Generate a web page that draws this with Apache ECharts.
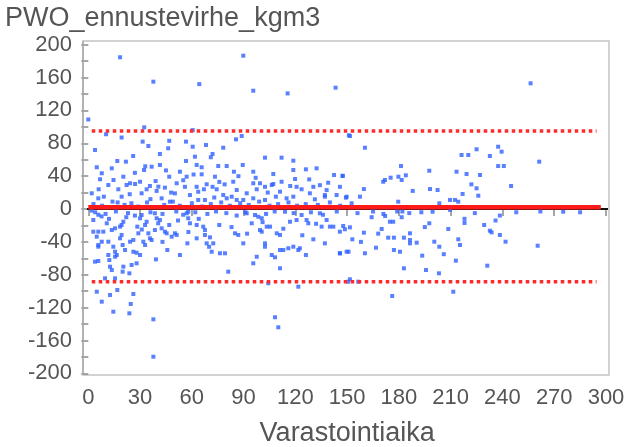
<!DOCTYPE html>
<html>
<head>
<meta charset="utf-8">
<script src="https://cdn.jsdelivr.net/npm/echarts@6/dist/echarts.min.js"></script>
<style>
  html, body { margin: 0; padding: 0; background: #fff; }
  #main { width: 629px; height: 447px; }
</style>
</head>
<body>
<div id="main"></div>
<script>
// luetut arvot: [varastointiaika, ennustevirhe]
var pointsAbove = [
  [18.4,184.7],[89.8,186.6],[37.7,155],[64.3,152],[95.6,144],[115.5,140.7],[143.3,147.7],[256.3,153],
  [0,109],[32.4,99.4],[60.5,96],[10.3,91],[19.3,87],[85.6,84.8],[88.9,88.9],[151,89.7],[151.6,88.9],
  [31.5,82],[46.9,83],[56.6,82],[34.8,76.7],[3.9,71.8],[41.5,67],[46.3,73.9],[68.2,77.9],[78.2,74.6],
  [60.5,75.8],[26,64.5],[61.8,63.7],[72,67],[71,63],[102.4,62.5],[112,62.5],[118.8,58.8],[16.8,58.4],
  [21.8,57.6],[56.6,58.4],[62.8,53.6],[65.7,50.8],[36.7,51.5],[41.5,53.6],[4.9,50.8],[13.6,49.5],
  [32.3,47.5],[75.3,52.3],[80.2,52.3],[84.4,45.4],[89.5,53.6],[95.6,45.4],[107.2,42.6],[118.8,47.5],
  [126.1,48.3],[132.3,49.5],[142.4,41.4],[147.4,40.5],[7.8,43.5],[20.3,39.3],[46.9,39.3],[53.1,45.4],
  [57,39.3],[65.7,42.2],[73.4,39.3],[84,33.2],[95.6,31.3],[99.5,31.3],[107.2,30.4],[112,33.2],
  [119.8,36.5],[6.8,36.2],[11.6,29.2],[17.4,24],[22.2,29.2],[27.1,30.4],[35.7,28],[40.6,27.2],
  [51.2,31.3],[68.6,30.1],[74.4,24],[78.2,17],[86,23.1],[91.8,19.1],[97.6,24],[106.3,29.2],[111.1,21.1],
  [123.6,24],[128.4,19.1],[137.1,17],[143.9,17],[149.7,15],[2,19.1],[5.8,13],[19.3,15],[30.9,19.1],
  [42.5,13],[47.3,8.9],[58.9,17],[63.7,11],[67.6,11],[80.2,13],[89.8,11],[95.6,13],[102.4,11],
  [114.9,13],[118.8,15],[131.3,11.8],[137.1,15],[14.6,35.3],[24.2,31.3],[30,33.2],[33.8,24],[39.6,22],
  [44.4,26],[50.2,19],[56,27],[62.8,27],[63.7,21],[72,27],[75.9,33],[83.1,15],[86,11],[102.4,27],
  [108.7,15],[120.7,27],[130.4,27],[134.2,29],[138.1,23],[145.8,27],
  [6,24],[9,15],[17,8],[24,18],[27,44],[33,52],[36,12],[39,34],[45,47],[48,20],[55,35],[61,42],
  [67,24],[73,14],[79,30],[87,40],[97,38],[104,20],[117,28],[128,36],[139,32],[188,22],[222,30],[245,28],
  [160.3,74.6],[225,72.7],[237.5,75.8],[239.5,69.8],[216.3,65.7],[220.2,65.7],[232.7,64.5],[261.3,57.6],
  [237.5,52.3],[240.8,52.3],[181.2,52.3],[147.4,40.2],[197.6,46.6],[213.4,45.4],[219.2,42.6],[227,41.4],
  [179.7,39.3],[181.6,35.3],[184,41],[175.2,38.1],[171.9,35.3],[170.9,33.2],[159.7,24.3],[149.3,13.8],
  [157.4,15],[198,24.3],[202.4,23.1],[216.9,18.3],[226,16.2],[209.6,11],[212.5,11],[214.4,8.9],
  [179.6,8.9],[203.4,6.9],[152.6,6.9],[225,25.2]
];
var pointsNearZero = [
  [3,6],[8,4],[14,9],[21,5],[25,7],[29,3],[34,8],[44,5],[49,9],[53,4],[60,7],[66,3],[71,6],[77,8],
  [82,4],[88,7],[93,5],[99,9],[105,4],[110,6],[116,8],[121,4],[126,6],[133,5],[140,8],[146,4],
  [2,-2],[4,-4],[10,-6],[16,-3],[23,-5],[27,-8],[36,-4],[43,-6],[51,-3],[55,-7],[62,-4],[69,-6],[74,-3],
  [80,-5],[86,-8],[91,-4],[103,-6],[108,-3],[119,-5],[129,-4],[136,-7],[144,-3],[156,-5],[165,-3],
  [186,-5],[193,-4],[224,-5],[248,-4],[262,-3],[285,-4]
];
var pointsBelow = [
  [171,-6],[172,-8.5],[179,-3],[182,-3],[199.5,-3.3],[209.6,-1],[238.5,-8],[275.2,-3.3],[164.2,-10],
  [174.8,-15.5],[176.7,-15.5],[181.6,-10],[197.6,-17.4],[229.4,-19.5],[218,-12],[218,-17],
  [232.7,-26.4],[233.7,-28.4],[238.5,-31.6],[241.8,-39.8],[260.4,-44.7],[147.7,-20.7],[148.7,-24.7],
  [151.6,-22.3],[159.7,-28.8],[153,-36.9],[170,-24.3],[173.8,-34.9],[177.1,-34.9],[182.9,-34.9],
  [186.4,-29.6],[186.4,-37.7],[186.4,-41.8],[190.3,-41],[200.5,-39.8],[203.4,-45.9],[208.6,-24.3],
  [214.4,-36.9],[215.4,-43.8],[166.7,-47.1],[160.3,-53.9],[150.8,-52],[145.8,-53.9],[177.1,-49.9],
  [180.6,-52],[193.5,-56.8],[213,-62.9],[231.2,-69],[182.9,-72.2],[195.7,-74.3],[203.2,-78.3],
  [151.6,-85.6],[156.4,-88.5],[211.5,-100.7],[176.1,-105.9],
  [158,-40],[168,-30],[195,-22],[206,-55],[236,-14],
  [12,-12],[22,-10],[31,-25],[43,-40],[52,-14],[58,-28],[64,-12],[70,-46],[83,-22],[92,-30],
  [101,-16],[113,-24],[124,-32],[132,-18],
  [2.9,-13.4],[5.8,-7],[7.7,-9],[2.9,-27.6],[5.8,-27.6],[8.7,-27.6],[4.9,-33.7],[7.8,-39.8],
  [5.8,-43.8],[5.8,-45.9],[11.6,-39.8],[13.6,-25.6],[15.5,-23.5],[10.7,-17.4],[18.4,-21.5],
  [19.3,-19.5],[20.3,-15.5],[19.3,-31.6],[18.4,-35.7],[14.5,-45.9],[15.5,-52],[16.5,-56],[15.5,-58.1],
  [11.6,-56],[12.2,-62.1],[12.6,-70.2],[13.6,-74.3],[3.9,-64.1],[5.8,-63.3],[9.7,-84.4],[15.5,-84.4],
  [20.3,-70.2],[19.9,-76.3],[23.8,-78.3],[25.1,-68.2],[28,-66.1],[26.1,-52],[28,-53.2],[19.9,-43.8],
  [21.3,-49.9],[24.2,-39.8],[26.1,-37.7],[4.9,-100.7],[7.8,-112.8],[12.6,-104.7],[16.8,-98.6],
  [14.5,-125],[26.1,-103.5],[24.6,-115.6],[23.8,-127],[37.7,-134.3],[37.7,-179.8],[30,-56],
  [28.4,-21.5],[30,-11.3],[30.9,-7.3],[33.8,-15.5],[32.9,-19.5],[29,-29.6],[34.8,-29.6],[35.7,-35.7],
  [31.9,-39.8],[32.9,-43.8],[36.7,-37.7],[38.6,-5.2],[39.6,-11.3],[41.5,-13.4],[40.5,-17.4],
  [38.6,-25.6],[42.5,-23.5],[44.4,-27.6],[45.4,-29.6],[48.3,-33.7],[45.8,-49.9],[39.2,-61.3],
  [46.9,-19.5],[50.2,-29.6],[51.2,-31.6],[53.1,-56],[57,-5.2],[57.9,-3.3],[57.9,-11.3],[57.4,-41.8],
  [58.9,-17.4],[62.8,-19.5],[66.6,-21.5],[67.6,-25.6],[62.8,-35.7],[67.6,-31.6],[68.6,-41.8],
  [70.5,-34.5],[72.4,-41.8],[71.5,-52],[75.9,-19.5],[76.3,-53.9],[79.2,-53.9],[81.1,-76.3],[85,-29.6],
  [86.9,-31.6],[89.8,-41.8],[91.8,-5.2],[94.7,-17.4],[95.6,-66.1],[96.6,-7.3],[98.5,-9.4],
  [100.5,-11.3],[99.5,-25.6],[100.5,-27.6],[102.4,-41.8],[102.4,-45.9],[97.6,-58.1],[103.4,-21.5],
  [105.3,-21.5],[104.3,-90.4],[106.3,-56],[108.2,-58.8],[109.2,-29.6],[111.1,-31.6],[111.1,-49.9],
  [113,-49.9],[111.1,-72.2],[108.2,-131.8],[110.1,-144],[114,-3.3],[115.9,-47.8],[118.8,-45.9],
  [121.7,-49.9],[122.6,-47.8],[121.7,-94.6],[116.9,-15.5],[120.7,-13.4],[123.6,-7.3],[126.5,-13.4],
  [127.5,-17.4],[126.1,-56],[130.4,-36.9],[134.2,-5.2],[135.2,-21.5],[137.1,-41.8],[138.1,-13.4],
  [140,-21.5],[142,-21.5],[145.8,-27.6],[145.8,-53.9],[149.7,-52],[150.6,-88.5]
];

var upperLimit = 95;
var lowerLimit = -88.5;
var meanError = 2;
var limitStart = 2, limitEnd = 294.5;
var meanStart = 0, meanEnd = 297;
var zeroStart = -3.1, zeroEnd = 301.7;

var chartFont = 'Liberation Sans';
var myChart = echarts.init(document.getElementById('main'));

var option = {
  animation: false,
  backgroundColor: '#fff',
  textStyle: { fontFamily: chartFont },
  title: {
    text: 'PWO_ennustevirhe_kgm3',
    left: 0, top: 0,
    textStyle: { fontSize: 27, fontWeight: 'normal', color: '#555', fontFamily: chartFont }
  },
  graphic: [
    { type: 'rect', z: 0, silent: true,
      shape: { x: 83, y: 41, width: 526, height: 334 },
      style: { fill: 'none', stroke: '#d2d2d2', lineWidth: 2 } },
    { type: 'line', z: 1, silent: true,
      shape: { x1: 83, y1: 41, x2: 83, y2: 375 },
      style: { stroke: '#a8a8a8', lineWidth: 1.5 } }
  ],
  grid: { left: 88.3, right: 23, top: 44.7, bottom: 73.7, outerBoundsMode: 'none', containLabel: false },
  xAxis: {
    type: 'value', min: 0, max: 300, interval: 30,
    offset: 4,
    name: 'Varastointiaika', nameLocation: 'middle', nameGap: 43,
    nameTextStyle: { fontSize: 27, color: '#555', fontFamily: chartFont },
    axisLine: { show: false },
    axisTick: { show: true, length: 7, lineStyle: { color: '#8a8a8a', width: 1.5 } },
    axisLabel: { fontSize: 22, color: '#555', margin: 10, fontFamily: chartFont },
    splitLine: { show: false }
  },
  yAxis: {
    type: 'value', min: -200, max: 200, interval: 40,
    offset: 5.3,
    axisLine: { show: false },
    axisTick: { show: true, length: 7, lineStyle: { color: '#8a8a8a', width: 1.5 } },
    minorTick: { show: true, splitNumber: 2, length: 7, lineStyle: { color: '#8a8a8a', width: 1.5 } },
    axisLabel: { fontSize: 22, color: '#555', margin: 11, fontFamily: chartFont },
    splitLine: { show: false }
  },
  series: [
    { type: 'line', z: 2, clip: false, symbol: 'none', silent: true,
      data: [[zeroStart, 0], [zeroEnd, 0]],
      lineStyle: { color: '#111', width: 2 } },
    { type: 'scatter', z: 3, symbol: 'rect', symbolSize: 4,
      data: pointsAbove.concat(pointsNearZero, pointsBelow),
      itemStyle: { color: '#2f62ff' } },
    { type: 'line', z: 4, symbol: 'none', silent: true,
      data: [[meanStart, meanError], [meanEnd, meanError]],
      lineStyle: { color: '#ff1a1a', width: 4.5 } },
    { type: 'line', z: 4, symbol: 'none', silent: true,
      data: [[limitStart, upperLimit], [limitEnd, upperLimit]],
      lineStyle: { color: '#ff2a2a', width: 3.5, type: [3.5, 3.5] } },
    { type: 'line', z: 4, symbol: 'none', silent: true,
      data: [[limitStart, lowerLimit], [limitEnd, lowerLimit]],
      lineStyle: { color: '#ff2a2a', width: 3.5, type: [3.5, 3.5] } }
  ]
};

myChart.setOption(option);
</script>
</body>
</html>
